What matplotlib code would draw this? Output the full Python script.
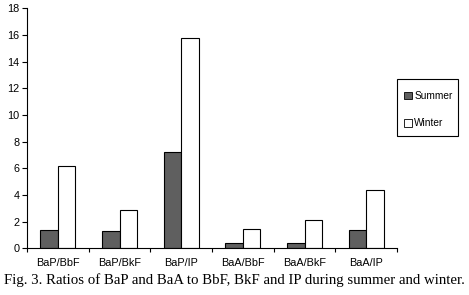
import numpy as np
import matplotlib.pyplot as plt
from matplotlib.patches import Patch, Rectangle

categories = ["BaP/BbF", "BaP/BkF", "BaP/IP", "BaA/BbF", "BaA/BkF", "BaA/IP"]
summer = [1.37, 1.3, 7.26, 0.37, 0.37, 1.37]
winter = [6.2, 2.86, 15.8, 1.42, 2.16, 4.4]
yticks = [0, 2, 4, 6, 8, 10, 12, 14, 16, 18]

plt.rcParams["font.family"] = ["Liberation Sans", "DejaVu Sans"]

fig = plt.figure(figsize=(4.69, 2.95), dpi=100)
ax = fig.add_axes([27 / 469, 1 - 248.3 / 295, 370 / 469, 240 / 295])

x = np.arange(len(categories))
w = 0.285
ax.bar(x - w / 2, summer, w, color="#5f5f5f", edgecolor="black", linewidth=0.8)
ax.bar(x + w / 2, winter, w, color="white", edgecolor="black", linewidth=0.8)

ax.set_xlim(-0.5, len(categories) - 0.5)
ax.set_ylim(0, 18)
ax.set_yticks(yticks)
ax.tick_params(axis="y", labelsize=7.8, length=3.5, width=0.8, pad=2)

ax.set_xticks(x)
ax.set_xticklabels(categories)
ax.set_xticks(np.arange(len(categories) + 1) - 0.5, minor=True)
ax.tick_params(axis="x", which="major", length=0, labelsize=7.8, pad=7)
ax.tick_params(axis="x", which="minor", length=3, width=0.8)

for s in ["top", "right"]:
    ax.spines[s].set_visible(False)
for s in ["left", "bottom"]:
    ax.spines[s].set_linewidth(0.8)

# legend box drawn separately so its size can follow the original
fig.patches.append(Rectangle((397 / 469, 1 - 136 / 295), 61 / 469, 57 / 295,
                             transform=fig.transFigure, fill=False,
                             edgecolor="black", linewidth=0.8))
handles = [Patch(facecolor="#5f5f5f", edgecolor="black", linewidth=0.6, label="Summer"),
           Patch(facecolor="white", edgecolor="black", linewidth=0.6, label="Winter")]
fig.legend(handles=handles, loc="upper left",
           bbox_to_anchor=(404 / 469, 1 - 91 / 295),
           fontsize=7.3, frameon=False,
           handlelength=0.8, handleheight=0.8, handletextpad=0.2,
           labelspacing=1.7, borderpad=0, borderaxespad=0)

fig.text(0.5, 1 - 280 / 295,
         "Fig. 3. Ratios of BaP and BaA to BbF, BkF and IP during summer and winter.",
         ha="center", va="center", fontsize=10.7, family=["Liberation Serif"])

fig.savefig("out.png", dpi=100)
